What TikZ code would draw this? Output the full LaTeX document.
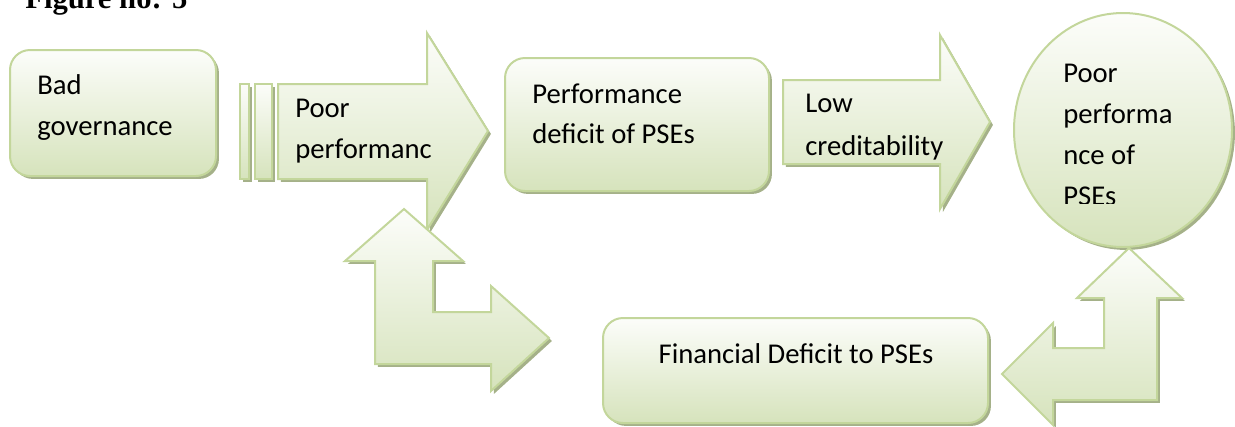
\documentclass[tikz,border=0pt]{standalone}
\usepackage{fontspec}
\setmainfont{Carlito}
\newfontfamily\titlefont{Liberation Serif}
\usetikzlibrary{shadows}

\definecolor{edgegreen}{RGB}{195,214,155}
\definecolor{topgreen}{RGB}{252,253,250}
\definecolor{bottomgreen}{RGB}{214,227,188}
\definecolor{shadowgreen}{RGB}{165,177,137}

\begin{document}
\begin{tikzpicture}[x=0.75pt,y=-0.75pt,
    greenshape/.style={draw=edgegreen, line width=1.5pt, top color=topgreen, bottom color=bottomgreen,
      drop shadow={shadow xshift=2.2pt, shadow yshift=-2.2pt, fill=shadowgreen, opacity=1}},
    words/.style={anchor=base west, inner sep=0pt, font=\fontsize{21.5}{26}\selectfont}]
                \useasboundingbox (0,0) rectangle (1235,426);
                \node[anchor=base west, inner sep=0pt, font=\titlefont\bfseries\fontsize{23}{28}\selectfont] (title) at (25,8.5) {Figure no: 5};
                \draw[greenshape, rounded corners=15pt] (10,50) rectangle (216,176);
                \draw[greenshape] (240,84) rectangle (249,179);
                \draw[greenshape] (255,84) rectangle (272,179);
                \draw[greenshape] (278,84) -- (427,84) -- (427,33) -- (488,131) -- (427,230) -- (427,179) -- (278,179) -- cycle;
                \draw[greenshape, rounded corners=15pt] (505,58) rectangle (769,191);
                \draw[greenshape] (783,80) -- (940,80) -- (940,35) -- (990,122) -- (940,209) -- (940,164) -- (783,164) -- cycle;
                \draw[greenshape] (1123,130) ellipse [x radius=109, y radius=117];
                \draw[greenshape] (404,209) -- (463,261) -- (433,261) -- (433,312) -- (491,312) -- (491,286) -- (549,338)
                    -- (491,391) -- (491,364) -- (375,364) -- (375,261) -- (345,261) -- cycle;
                \draw[greenshape, rounded corners=15pt] (603,318) rectangle (988,423);
                \draw[greenshape] (1129,248) -- (1182,298) -- (1157,298) -- (1157,400) -- (1053,400) -- (1053,425) -- (1002,374)
                    -- (1053,323) -- (1053,348) -- (1104,348) -- (1104,298) -- (1077,298) -- cycle;
                \node[words] (bad) at (37,94) {Bad};
                \node[words] (governance) at (37,135) {governance};
                \node[words] (poor) at (295,117) {Poor};
                \node[words] (performanc) at (295,158) {performanc};
                \node[words] (perf) at (532,103) {Performance};
                \node[words] (deficit) at (532,143) {deficit of PSEs};
                \node[words] (low) at (805,112) {Low};
                \node[words] (cred) at (805,155) {creditability};
                \node[words] (poorpse) at (1063,82) {Poor};
                \node[words] (performa) at (1063,123) {performa};
                \node[words] (nceof) at (1063,164) {nce of};
                \begin{scope}
                    \clip (1000,150) rectangle (1235,203);
                    \node[words] (pses) at (1063,205) {PSEs};
                \end{scope}
                \node[anchor=base, inner sep=0pt, font=\fontsize{21.5}{26}\selectfont] (financial) at (796,363) {Financial Deficit to PSEs};
            \end{tikzpicture}
\end{document}
